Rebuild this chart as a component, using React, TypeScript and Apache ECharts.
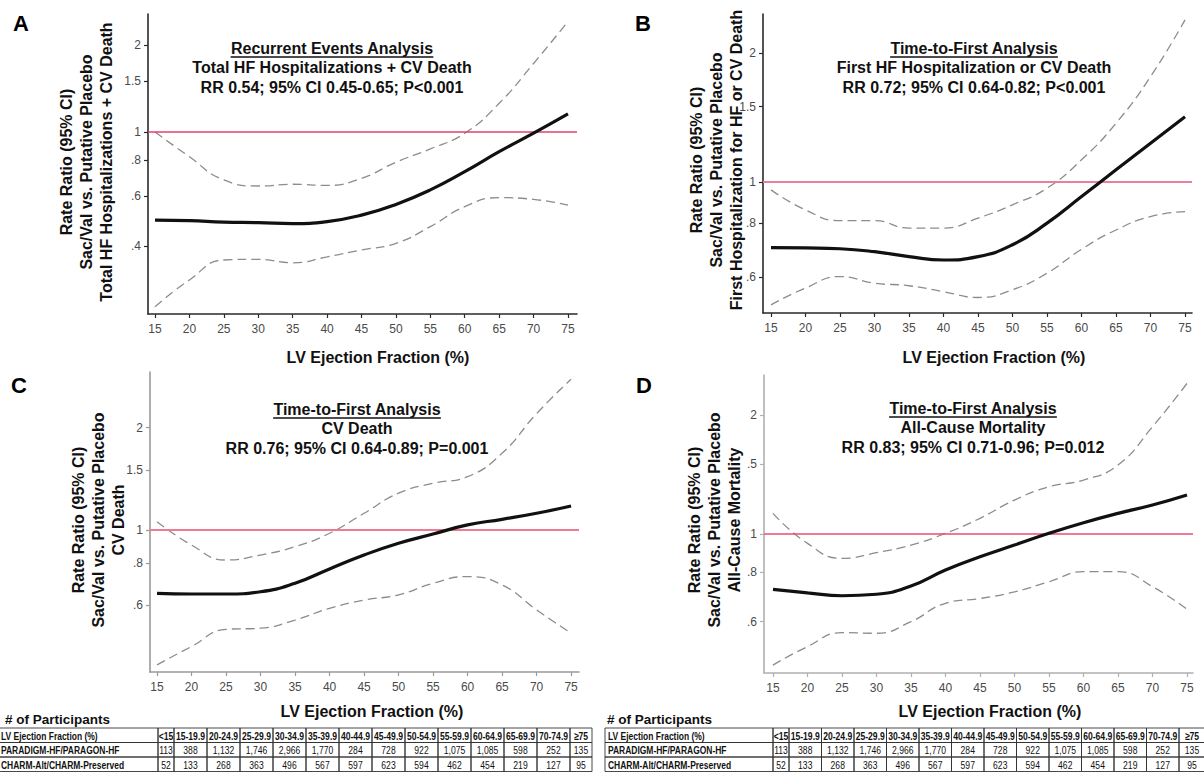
import React, { useEffect, useRef } from "react";
import * as echarts from "echarts";

// ---------- data ----------
const efTicks = [15, 20, 25, 30, 35, 40, 45, 50, 55, 60, 65, 70, 75];
const efPoints = [15, 20, 25, 30, 35, 40, 45, 50, 55, 60, 65, 70, 75];

// Panel A: Recurrent events, total HF hospitalizations + CV death
const aMain = [0.494, 0.492, 0.486, 0.484, 0.48, 0.488, 0.514, 0.56, 0.629, 0.728, 0.854, 0.99, 1.155];
const aUpper = [1.0, 0.82, 0.681, 0.649, 0.658, 0.652, 0.69, 0.785, 0.873, 0.99, 1.258, 1.73, 2.42];
const aLower = [0.247, 0.306, 0.359, 0.361, 0.351, 0.368, 0.389, 0.41, 0.469, 0.55, 0.591, 0.583, 0.557];

// Panel B: First HF hospitalization or CV death
const bMain = [0.702, 0.701, 0.698, 0.687, 0.669, 0.657, 0.669, 0.713, 0.801, 0.924, 1.067, 1.231, 1.42];
const bUpper = [0.958, 0.86, 0.812, 0.812, 0.78, 0.78, 0.823, 0.884, 0.967, 1.126, 1.371, 1.762, 2.39];
const bLower = [0.516, 0.565, 0.601, 0.58, 0.572, 0.554, 0.537, 0.56, 0.612, 0.696, 0.772, 0.83, 0.852];

// Panel C: CV death
const cMain = [0.651, 0.648, 0.648, 0.658, 0.697, 0.768, 0.844, 0.914, 0.973, 1.035, 1.075, 1.12, 1.177];
const cUpper = [1.058, 0.903, 0.816, 0.844, 0.893, 0.978, 1.12, 1.283, 1.372, 1.435, 1.682, 2.2, 2.776];
const cLower = [0.401, 0.454, 0.51, 0.514, 0.543, 0.588, 0.622, 0.644, 0.697, 0.729, 0.689, 0.582, 0.497];

// Panel D: All-cause mortality
const dMain = [0.724, 0.71, 0.698, 0.704, 0.739, 0.811, 0.876, 0.938, 1.004, 1.068, 1.128, 1.184, 1.255];
const dUpper = [1.128, 0.947, 0.868, 0.897, 0.938, 1.004, 1.096, 1.219, 1.317, 1.37, 1.495, 1.869, 2.406];
const dLower = [0.466, 0.519, 0.563, 0.561, 0.6, 0.668, 0.687, 0.714, 0.757, 0.803, 0.803, 0.736, 0.645];

const aYTicks = [0.4, 0.6, 0.8, 1, 1.5, 2];
const aYLabels = [".4", ".6", ".8", "1", "1.5", "2"];
const bYTicks = [0.6, 0.8, 1, 1.5, 2];
const bYLabels = [".6", ".8", "1", "1.5", "2"];
const cYTicks = [0.6, 0.8, 1, 1.5, 2];
const cYLabels = [".6", ".8", "1", "1.5", "2"];
const dYTicks = [0.6, 0.8, 1, 1.5, 2];
const dYLabels = [".6", ".8", "1", ".5", "2"];

const aTitles = ["Recurrent Events Analysis", "Total HF Hospitalizations + CV Death", "RR 0.54; 95% CI 0.45-0.65; P<0.001"];
const bTitles = ["Time-to-First Analysis", "First HF Hospitalization or CV Death", "RR 0.72; 95% CI 0.64-0.82; P<0.001"];
const cTitles = ["Time-to-First Analysis", "CV Death", "RR 0.76; 95% CI 0.64-0.89; P=0.001"];
const dTitles = ["Time-to-First Analysis", "All-Cause Mortality", "RR 0.83; 95% CI 0.71-0.96; P=0.012"];

const aYTitle = ["Rate Ratio (95% CI)", "Sac/Val vs. Putative Placebo", "Total HF Hospitalizations + CV Death"];
const bYTitle = ["Rate Ratio (95% CI)", "Sac/Val vs. Putative Placebo", "First Hospitalization for HF or CV Death"];
const cYTitle = ["Rate Ratio (95% CI)", "Sac/Val vs. Putative Placebo", "CV Death"];
const dYTitle = ["Rate Ratio (95% CI)", "Sac/Val vs. Putative Placebo", "All-Cause Mortality"];

const xTitle = "LV Ejection Fraction (%)";
const tableTitle = "# of Participants";
const tableHeader = ["LV Ejection Fraction (%)", "<15", "15-19.9", "20-24.9", "25-29.9", "30-34.9", "35-39.9", "40-44.9", "45-49.9", "50-54.9", "55-59.9", "60-64.9", "65-69.9", "70-74.9", "≥75"];
const rowLabels = ["PARADIGM-HF/PARAGON-HF", "CHARM-Alt/CHARM-Preserved"];
const paradigmCounts = [113, 388, 1132, 1746, 2966, 1770, 284, 728, 922, 1075, 1085, 598, 252, 135];
const charmCounts = [52, 133, 268, 363, 496, 567, 597, 623, 594, 462, 454, 219, 127, 95];

// ---------- layout ----------
const FONT = '"Liberation Sans", Arial, Helvetica, sans-serif';

const panels = [
  {
    letter: "A", letterPos: [21, 23],
    grid: { left: 148, top: 14, width: 429, height: 300 },
    xMin: 13.98, xMax: 76.31, yMin: 0.233, yMax: 2.57,
    yTicks: aYTicks, yLabels: aYLabels, main: aMain, upper: aUpper, lower: aLower,
    titles: aTitles, titlePos: [332, 48], yTitle: aYTitle, yTitlePos: [86, 162], xTitlePos: [378, 357],
    axisColor: "#2a2a2a", refColor: "#e63e6c", refWidth: 1.6,
  },
  {
    letter: "B", letterPos: [643, 23],
    grid: { left: 763, top: 14, width: 429, height: 299 },
    xMin: 13.84, xMax: 76.01, yMin: 0.494, yMax: 2.467,
    yTicks: bYTicks, yLabels: bYLabels, main: bMain, upper: bUpper, lower: bLower,
    titles: bTitles, titlePos: [974, 48], yTitle: bYTitle, yTitlePos: [716, 160], xTitlePos: [994, 357],
    axisColor: "#2a2a2a", refColor: "#e8809a", refWidth: 2.2,
  },
  {
    letter: "C", letterPos: [19, 385],
    grid: { left: 150, top: 372, width: 429, height: 300 },
    xMin: 13.98, xMax: 76.15, yMin: 0.382, yMax: 2.917,
    yTicks: cYTicks, yLabels: cYLabels, main: cMain, upper: cUpper, lower: cLower,
    titles: cTitles, titlePos: [357, 409], yTitle: cYTitle, yTitlePos: [98, 520], xTitlePos: [372, 711],
    axisColor: "#9a9a9a", refColor: "#ef7a93", refWidth: 1.8,
  },
  {
    letter: "D", letterPos: [644, 385],
    grid: { left: 764, top: 375, width: 429, height: 298 },
    xMin: 13.7, xMax: 75.87, yMin: 0.445, yMax: 2.526,
    yTicks: dYTicks, yLabels: dYLabels, main: dMain, upper: dUpper, lower: dLower,
    titles: dTitles, titlePos: [973, 408], yTitle: dYTitle, yTitlePos: [714, 520], xTitlePos: [990, 711],
    axisColor: "#b0b0b0", refColor: "#ec4c73", refWidth: 1.6,
  },
];

const tables = [
  { labelX: -4, labelTextX: 1, dataX: 158, firstW: 16, rangeW: 33, lastW: 22, titleX: 5, titleY: 719, top: 728 },
  { labelX: 605, labelTextX: 608, dataX: 773, firstW: 16, rangeW: 32.5, lastW: 26, titleX: 607, titleY: 719, top: 728 },
];

function measure(text: string, font: string): number {
  const c = document.createElement("canvas").getContext("2d");
  if (!c) return text.length * 8;
  c.font = font;
  return c.measureText(text).width;
}

function buildOption() {
  const grids: any[] = [];
  const xAxes: any[] = [];
  const yAxes: any[] = [];
  const series: any[] = [];
  const graphics: any[] = [];

  panels.forEach((p, i) => {
    grids.push({ ...p.grid, containLabel: false });
    xAxes.push({
      type: "value", gridIndex: i, min: p.xMin, max: p.xMax,
      axisLine: { show: true, onZero: false, lineStyle: { color: p.axisColor, width: 1.6 } },
      axisTick: { show: true, length: 4, customValues: efTicks, lineStyle: { color: p.axisColor, width: 1.2 } },
      axisLabel: { customValues: efTicks, margin: 9, fontSize: 12, color: "#4a4a4a", fontFamily: FONT },
      splitLine: { show: false },
    });
    const ticks = p.yTicks;
    const labels = p.yLabels;
    yAxes.push({
      type: "log", logBase: 10, gridIndex: i, min: p.yMin, max: p.yMax,
      axisLine: { show: true, onZero: false, lineStyle: { color: p.axisColor, width: 1.6 } },
      axisTick: { show: true, length: 4, customValues: ticks, lineStyle: { color: p.axisColor, width: 1.2 } },
      axisLabel: {
        customValues: ticks, margin: 7, fontSize: 12, color: "#4a4a4a", fontFamily: FONT,
        formatter: (v: number) => {
          let best = 0;
          ticks.forEach((t, k) => { if (Math.abs(t - v) < Math.abs(ticks[best] - v)) best = k; });
          return labels[best];
        },
      },
      splitLine: { show: false },
    });
    const toData = (arr: number[]) => efPoints.map((x, k) => [x, arr[k]]);
    series.push({
      type: "line", xAxisIndex: i, yAxisIndex: i, data: toData(p.upper), smooth: 0.5, symbol: "none",
      lineStyle: { color: "#8c8c8c", width: 1.3, type: [9, 5] }, silent: true, z: 2,
    });
    series.push({
      type: "line", xAxisIndex: i, yAxisIndex: i, data: toData(p.lower), smooth: 0.5, symbol: "none",
      lineStyle: { color: "#8c8c8c", width: 1.3, type: [9, 5] }, silent: true, z: 2,
    });
    series.push({
      type: "line", xAxisIndex: i, yAxisIndex: i, data: toData(p.main), smooth: 0.5, symbol: "none",
      lineStyle: { color: "#111", width: 3.2 }, silent: true, z: 4,
      markLine: {
        silent: true, symbol: "none", label: { show: false },
        lineStyle: { color: p.refColor, width: p.refWidth, type: "solid" },
        data: [{ yAxis: 1 }], z: 3,
      },
    });

    graphics.push({
      type: "text", x: p.letterPos[0], y: p.letterPos[1],
      style: { text: p.letter, font: `bold 22px ${FONT}`, fill: "#000", textAlign: "center", textVerticalAlign: "middle" },
    });
    p.titles.forEach((t, k) => {
      graphics.push({
        type: "text", x: p.titlePos[0], y: p.titlePos[1] + k * 19.5,
        style: { text: t, font: `bold 16px ${FONT}`, fill: "#111", textAlign: "center", textVerticalAlign: "middle" },
      });
    });
    const w = measure(p.titles[0], `bold 16px ${FONT}`);
    graphics.push({
      type: "line",
      shape: { x1: p.titlePos[0] - w / 2, y1: p.titlePos[1] + 9, x2: p.titlePos[0] + w / 2, y2: p.titlePos[1] + 9 },
      style: { stroke: "#111", lineWidth: 1.3 },
    });
    graphics.push({
      type: "text", x: p.yTitlePos[0], y: p.yTitlePos[1], rotation: Math.PI / 2,
      style: {
        text: p.yTitle.join("\n"), font: `bold 16px ${FONT}`, lineHeight: 20, fill: "#111",
        textAlign: "center", textVerticalAlign: "middle",
      },
    });
    graphics.push({
      type: "text", x: p.xTitlePos[0], y: p.xTitlePos[1],
      style: { text: xTitle, font: `bold 16px ${FONT}`, fill: "#111", textAlign: "center", textVerticalAlign: "middle" },
    });
  });

  // participant tables
  const rowH = 14.5;
  const fmt = (n: number) => n.toLocaleString("en-US");
  tables.forEach((tb) => {
    const colW = [tb.firstW, ...Array(12).fill(tb.rangeW), tb.lastW];
    graphics.push({
      type: "text", x: tb.titleX, y: tb.titleY,
      style: { text: tableTitle, font: `bold 13.5px ${FONT}`, fill: "#111", textAlign: "left", textVerticalAlign: "middle" },
    });
    const rows = [
      { label: tableHeader[0], cells: tableHeader.slice(1), bold: true },
      { label: rowLabels[0], cells: paradigmCounts.map(fmt), bold: false },
      { label: rowLabels[1], cells: charmCounts.map(fmt), bold: false },
    ];
    rows.forEach((r, ri) => {
      const y = tb.top + ri * rowH;
      graphics.push({
        type: "rect", shape: { x: tb.labelX, y, width: tb.dataX - tb.labelX, height: rowH },
        style: { fill: "none", stroke: "#333", lineWidth: 0.9 },
      });
      graphics.push({
        type: "text", x: tb.labelTextX, y: y + rowH / 2 + 0.5, scaleX: 0.77,
        style: { text: r.label, font: `bold 11px ${FONT}`, fill: "#111", textAlign: "left", textVerticalAlign: "middle" },
      });
      let cx = tb.dataX;
      r.cells.forEach((c, ci) => {
        graphics.push({
          type: "rect", shape: { x: cx, y, width: colW[ci], height: rowH },
          style: { fill: "none", stroke: "#333", lineWidth: 0.9 },
        });
        graphics.push({
          type: "text", x: cx + colW[ci] / 2, y: y + rowH / 2 + 0.5, scaleX: 0.78,
          style: {
            text: c, font: `${r.bold ? "bold " : ""}11px ${FONT}`, fill: "#111",
            textAlign: "center", textVerticalAlign: "middle",
          },
        });
        cx += colW[ci];
      });
    });
  });

  return {
    animation: false,
    backgroundColor: "#fff",
    grid: grids,
    xAxis: xAxes,
    yAxis: yAxes,
    series,
    graphic: { elements: graphics },
  };
}

export default function App() {
  const ref = useRef<HTMLDivElement>(null);
  useEffect(() => {
    if (!ref.current) return;
    const chart = echarts.init(ref.current, undefined, { renderer: "svg" });
    chart.setOption(buildOption() as any);
    return () => chart.dispose();
  }, []);
  return (
    <div
      ref={ref}
      style={{ position: "absolute", left: 0, top: 0, width: 1204, height: 772, background: "#fff" }}
    />
  );
}
